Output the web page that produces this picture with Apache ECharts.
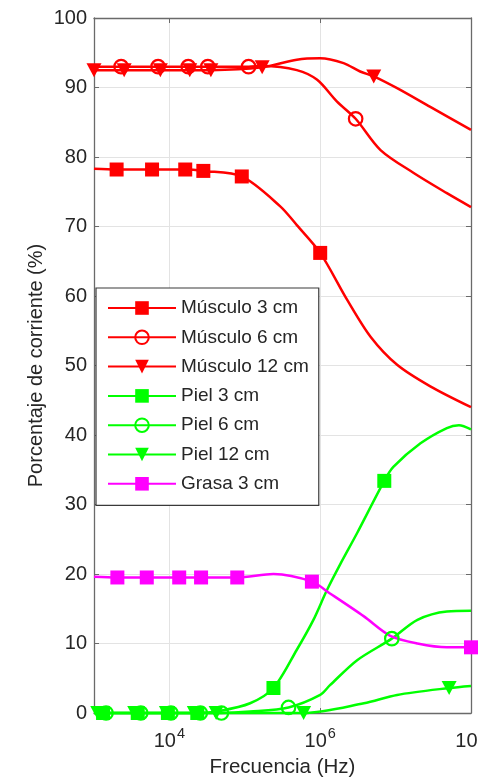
<!DOCTYPE html>
<html>
<head>
<meta charset="utf-8">
<script src="https://cdn.jsdelivr.net/npm/echarts@6/dist/echarts.min.js"></script>
<style>html,body{margin:0;padding:0;background:#fff;overflow:hidden;}#c{width:479px;height:778px;}</style>
</head>
<body>
<div id="c"></div>
<script>
// x values are log10(frequency in Hz); m = 1 where a marker is drawn
const xTickValues = [4, 6, 8];
const yTickMin = 0, yTickMax = 100, yTickStep = 10;

const musculo3X = [3.00, 3.30, 3.77, 4.21, 4.45, 4.96, 5.47, 5.69, 6.00, 6.36, 6.67, 7.02, 7.46, 8.00];
const musculo3Y = [78.3, 78.2, 78.2, 78.2, 78.0, 77.2, 72.9, 70.2, 66.2, 59.4, 54.1, 50.1, 47.0, 44.0];
const musculo3M = [0, 1, 1, 1, 1, 1, 0, 0, 1, 0, 0, 0, 0, 0];

const musculo6X = [3.00, 3.36, 3.85, 4.25, 4.51, 5.05, 5.24, 5.69, 5.96, 6.22, 6.47, 6.80, 7.24, 7.68, 8.00];
const musculo6Y = [93.0, 93.0, 93.0, 93.0, 93.0, 93.0, 93.1, 92.5, 91.1, 88.0, 85.5, 81.0, 77.7, 74.8, 72.8];
const musculo6M = [0, 1, 1, 1, 1, 1, 0, 0, 0, 0, 1, 0, 0, 0, 0];

const musculo12X = [3.00, 3.40, 3.88, 4.27, 4.55, 5.23, 5.69, 6.00, 6.31, 6.53, 6.71, 7.02, 7.46, 8.00];
const musculo12Y = [92.5, 92.5, 92.5, 92.5, 92.5, 92.9, 94.0, 94.2, 93.5, 92.3, 91.6, 89.9, 87.2, 83.9];
const musculo12M = [1, 1, 1, 1, 1, 1, 0, 0, 0, 0, 1, 0, 0, 0];

const piel3X = [3.00, 3.12, 3.58, 3.98, 4.37, 4.67, 5.07, 5.38, 5.69, 5.91, 6.09, 6.27, 6.49, 6.85, 6.97, 7.33, 7.68, 7.84, 8.00];
const piel3Y = [0.0, 0.0, 0.0, 0.0, 0.0, 0.3, 1.4, 3.6, 9.1, 13.4, 17.7, 21.5, 25.9, 33.4, 35.4, 38.8, 41.0, 41.4, 40.8];
const piel3M = [0, 1, 1, 1, 1, 0, 0, 1, 0, 0, 0, 0, 0, 1, 0, 0, 0, 0, 0];

const piel6X = [3.00, 3.16, 3.62, 4.02, 4.41, 4.69, 5.07, 5.58, 6.00, 6.13, 6.49, 6.95, 7.29, 7.68, 8.00];
const piel6Y = [0.0, 0.0, 0.0, 0.0, 0.0, 0.0, 0.2, 0.8, 2.6, 4.0, 7.6, 10.7, 13.4, 14.6, 14.7];
const piel6M = [0, 1, 1, 1, 1, 1, 0, 1, 0, 0, 0, 1, 0, 0, 0];

const piel12X = [3.05, 3.54, 3.96, 4.33, 4.62, 5.78, 6.58, 7.02, 7.71, 8.00];
const piel12Y = [0.0, 0.0, 0.0, 0.0, 0.0, 0.0, 1.4, 2.6, 3.6, 3.9];
const piel12M = [1, 1, 1, 1, 1, 1, 0, 0, 1, 0];

const grasa3X = [3.00, 3.31, 3.70, 4.13, 4.42, 4.90, 5.38, 5.89, 6.13, 6.58, 6.93, 7.29, 7.68, 8.00];
const grasa3Y = [19.6, 19.5, 19.5, 19.5, 19.5, 19.5, 20.0, 18.9, 17.2, 13.9, 11.1, 10.0, 9.45, 9.45];
const grasa3M = [0, 1, 1, 1, 1, 1, 0, 1, 0, 0, 0, 0, 0, 1];

const seriesNames = ['Músculo 3 cm', 'Músculo 6 cm', 'Músculo 12 cm', 'Piel 3 cm', 'Piel 6 cm', 'Piel 12 cm', 'Grasa 3 cm'];

const RED = '#ff0000', GREEN = '#00ff00', MAG = '#ff00ff';
const TXT = '#262626', AX = '#6a6a6a', GRID = '#e3e3e3';

function build(name, xs, ys, ms, color, kind) {
  const data = xs.map((x, i) => ms[i] ? [x, ys[i]] : { value: [x, ys[i]], symbol: 'none' });
  const s = {
    name, type: 'line', data, smooth: 0.3, showAllSymbol: true, clip: false,
    lineStyle: { color, width: 2.5 },
    emphasis: { disabled: true },
    animation: false
  };
  if (kind === 'square') {
    s.symbol = 'rect'; s.symbolSize = 14;
    s.itemStyle = { color, borderColor: color, borderWidth: 0 };
  } else if (kind === 'circle') {
    s.symbol = 'circle'; s.symbolSize = 13.5;
    s.itemStyle = { color: 'rgba(255,255,255,0)', borderColor: color, borderWidth: 2.2 };
  } else {
    s.symbol = 'triangle'; s.symbolSize = [15, 14]; s.symbolRotate = 180;
    s.itemStyle = { color, borderColor: color, borderWidth: 0 };
  }
  return s;
}

const chart = echarts.init(document.getElementById('c'), null, { renderer: 'canvas' });
const FONT = 'Liberation Sans, Arial, Helvetica, sans-serif';
const option = {
  animation: false,
  backgroundColor: '#fff',
  textStyle: { fontFamily: FONT },
  grid: { left: 94, right: 8, top: 18, bottom: 65, containLabel: false, outerBoundsMode: 'none' },
  xAxis: [{
    type: 'value', min: 3, max: 8, interval: 1, position: 'bottom',
    name: 'Frecuencia (Hz)', nameLocation: 'middle', nameGap: 44,
    nameTextStyle: { fontSize: 20.5, color: TXT, fontFamily: FONT },
    axisLine: { show: true, onZero: false, lineStyle: { color: AX, width: 1.3 } },
    axisTick: { show: true, inside: true, length: 5, customValues: xTickValues, lineStyle: { color: AX } },
    axisLabel: {
      customValues: xTickValues, margin: 10, color: TXT, fontFamily: FONT,
      formatter: v => '{b|10}{s|' + v + '}',
      rich: {
        b: { fontSize: 20, color: TXT, fontFamily: FONT, padding: [8, 0, 0, 0] },
        s: { fontSize: 14.5, color: TXT, fontFamily: FONT, padding: [0, 0, 6, 1] }
      }
    },
    splitLine: { show: true, lineStyle: { color: GRID, width: 1 } }
  }, {
    type: 'value', min: 3, max: 8, interval: 1, position: 'top',
    axisLine: { show: true, onZero: false, lineStyle: { color: AX, width: 1.3 } },
    axisTick: { show: true, inside: true, length: 5, customValues: xTickValues, lineStyle: { color: AX } },
    axisLabel: { show: false }, splitLine: { show: false }
  }],
  yAxis: [{
    type: 'value', min: yTickMin, max: yTickMax, interval: yTickStep, position: 'left',
    name: 'Porcentaje de corriente (%)', nameLocation: 'middle', nameGap: 48, nameMoveOverlap: false,
    nameTextStyle: { fontSize: 20, color: TXT, fontFamily: FONT },
    axisLine: { show: true, onZero: false, lineStyle: { color: AX, width: 1.3 } },
    axisTick: { show: true, inside: true, length: 5, lineStyle: { color: AX } },
    axisLabel: { fontSize: 20, color: TXT, margin: 7, fontFamily: FONT },
    splitLine: { show: true, lineStyle: { color: GRID, width: 1 } }
  }, {
    type: 'value', min: yTickMin, max: yTickMax, interval: yTickStep, position: 'right',
    axisLine: { show: true, onZero: false, lineStyle: { color: AX, width: 1.3 } },
    axisTick: { show: true, inside: true, length: 5, lineStyle: { color: AX } },
    axisLabel: { show: false }, splitLine: { show: false }
  }],
  legend: {
    orient: 'vertical', left: 96, top: 288,
    padding: [10.5, 10, 12, 11],
    itemWidth: 68, itemHeight: 17, itemGap: 10.3,
    backgroundColor: '#fff', borderColor: '#3a3a3a', borderWidth: 1.2, borderRadius: 0,
    textStyle: { fontSize: 19, color: TXT, fontFamily: FONT },
    data: seriesNames
  },
  series: [
    build(seriesNames[0], musculo3X, musculo3Y, musculo3M, RED, 'square'),
    build(seriesNames[1], musculo6X, musculo6Y, musculo6M, RED, 'circle'),
    build(seriesNames[2], musculo12X, musculo12Y, musculo12M, RED, 'triangle'),
    build(seriesNames[3], piel3X, piel3Y, piel3M, GREEN, 'square'),
    build(seriesNames[4], piel6X, piel6Y, piel6M, GREEN, 'circle'),
    build(seriesNames[5], piel12X, piel12Y, piel12M, GREEN, 'triangle'),
    build(seriesNames[6], grasa3X, grasa3Y, grasa3M, MAG, 'square')
  ]
};
chart.setOption(option);
</script>
</body>
</html>
